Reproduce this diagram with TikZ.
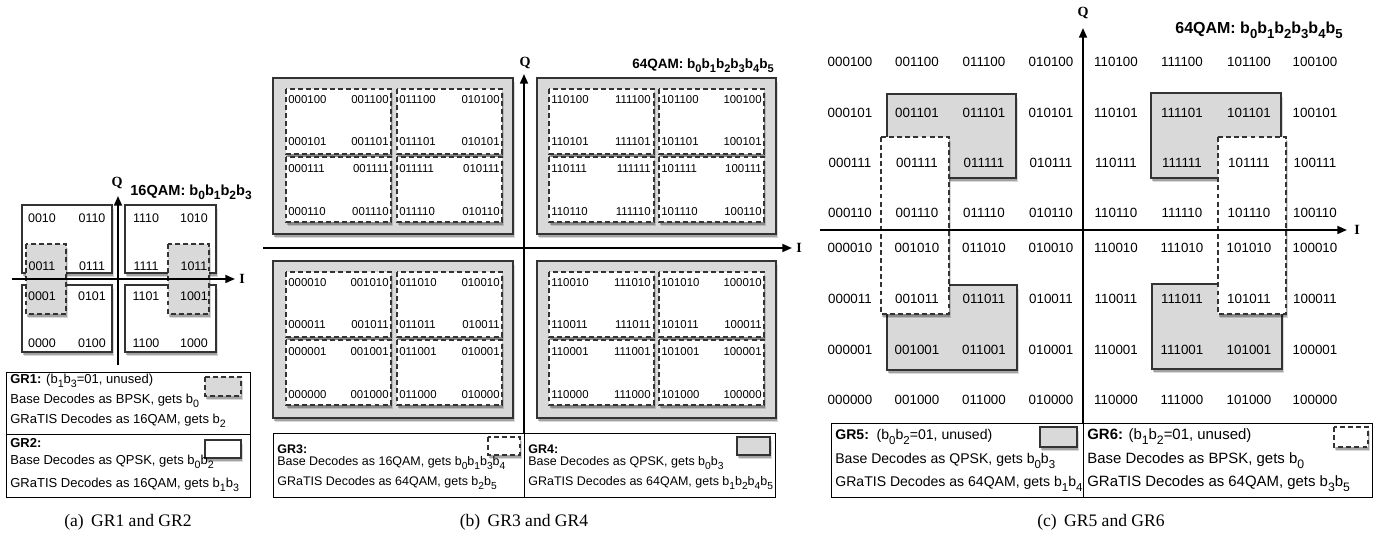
\documentclass[tikz,border=0pt]{standalone}
\usepackage{fontspec}
\setmainfont{Liberation Serif}
\setsansfont{Liberation Sans}
\usetikzlibrary{shadows,arrows.meta}

\definecolor{regiongray}{RGB}{217,217,217}
\newcommand{\bbit}[1]{b\raisebox{-0.55ex}{\scalebox{0.82}{#1}}}

\tikzset{
  softshadow/.style={drop shadow={shadow xshift=0.9pt,shadow yshift=-2.4pt,opacity=0.15,fill=black},
                     drop shadow={shadow xshift=0.5pt,shadow yshift=-1.5pt,opacity=0.25,fill=black}},
  cellbox/.style={draw=black!80,line width=0.6pt,fill=white,softshadow},
  graybox/.style={draw=black!80,line width=0.6pt,fill=regiongray,softshadow},
  dashwhite/.style={cellbox,dash pattern=on 2.8pt off 1.8pt},
  dashgray/.style={graybox,dash pattern=on 2.8pt off 1.8pt},
  legframe/.style={draw=black,line width=0.5pt},
  axisline/.style={line width=1.1pt,-{Triangle[length=5.5pt,width=4.5pt]}},
  axlabel/.style={inner sep=0pt,font=\rmfamily\bfseries\fontsize{8}{9}\selectfont},
  bita/.style={inner sep=0pt,font=\sffamily\fontsize{7.1}{8}\selectfont},
  bitb/.style={inner sep=0pt,font=\sffamily\fontsize{6.5}{7.5}\selectfont},
  bitc/.style={inner sep=0pt,font=\sffamily\fontsize{7.6}{9}\selectfont},
  qamtitle/.style={inner sep=0pt,font=\sffamily\bfseries\fontsize{#1}{10}\selectfont},
  legtxt/.style={anchor=base west,inner sep=0pt,font=\sffamily\fontsize{#1}{9}\selectfont},
  capt/.style={anchor=base,inner sep=0pt,font=\rmfamily\fontsize{10}{12}\selectfont}
}

\begin{document}
\begin{tikzpicture}[x=0.02cm,y=-0.02cm]
\useasboundingbox (0,0) rectangle (1374,540);

% ---------- (a) 16QAM ----------
\draw[cellbox] (22,205) rectangle (112,273);
\draw[cellbox] (125,205) rectangle (216,273);
\draw[cellbox] (22,285) rectangle (112,352);
\draw[cellbox] (125,285) rectangle (216,352);
\draw[dashgray] (26,244) rectangle (66,314);
\draw[dashgray] (168,244) rectangle (209,314);
\foreach \x/\cp in {42/00,92/01,146/11,194/10}
  \foreach \y/\rs in {218/10,266/11,296/01,343/00}
    \node[bita] (a\cp\rs) at (\x,\y) {\cp\rs};
\coordinate (aW) at (12,279);
\coordinate (aE) at (235,279);
\coordinate (aS) at (118,365);
\coordinate (aN) at (118,196);
\draw[axisline] (aW) -- (aE);
\draw[axisline] (aS) -- (aN);
\node[axlabel] (aQ) at (117,183) {Q};
\node[axlabel] (aI) at (242,279) {I};
\node[qamtitle=8.3] (atitle) at (191,192) {16QAM: \bbit{0}\bbit{1}\bbit{2}\bbit{3}};

% legend (a)
\draw[legframe] (6,372) rectangle (250,434);
\draw[legframe] (6,434) rectangle (250,497);
\draw[dashgray] (205,377) rectangle (241,396);
\draw[cellbox] (205,440) rectangle (241,458);
\node[legtxt=7.4] (gr1head) at (10,384) {\textbf{GR1:} (\bbit{1}\bbit{3}=01, unused)};
\node[legtxt=7.4] (gr1base) at (10,404) {Base Decodes as BPSK, gets \bbit{0}};
\node[legtxt=7.4] (gr1gratis) at (10,424) {GRaTIS Decodes as 16QAM, gets \bbit{2}};
\node[legtxt=7.4] (gr2head) at (10,448) {\textbf{GR2:}};
\node[legtxt=7.4] (gr2base) at (10,465) {Base Decodes as QPSK, gets \bbit{0}\bbit{2}};
\node[legtxt=7.4] (gr2gratis) at (10,488) {GRaTIS Decodes as 16QAM, gets \bbit{1}\bbit{3}};
\node[capt] (capa) at (128,527) {(a)\, GR1 and GR2};

% ---------- (b) 64QAM, GR3/GR4 ----------
\draw[graybox] (273,78) rectangle (513,234);
\draw[graybox] (537,78) rectangle (776,234);
\draw[graybox] (273,261) rectangle (513,418);
\draw[graybox] (537,261) rectangle (776,418);
\foreach \x in {286,397,549,659}
  \foreach \y in {89,157,272,340}
    \draw[dashwhite] (\x,\y) rectangle ++(105,65);
\foreach \x/\a/\cp in {288/west/000,389/east/001,399/west/011,500/east/010,551/west/110,651/east/111,661/west/101,762/east/100}
  \foreach \y/\rs in {100/100,142/101,169/111,212/110,283/010,325/011,352/001,395/000}
    \node[bitb,anchor=\a] (b\cp\rs) at (\x,\y) {\cp\rs};
\coordinate (bW) at (263,248);
\coordinate (bE) at (792,248);
\coordinate (bS) at (524,433);
\coordinate (bN) at (524,74);
\draw[axisline] (bW) -- (bE);
\draw[axisline] (bS) -- (bN);
\node[axlabel] (bQ) at (525,63) {Q};
\node[axlabel] (bI) at (799,248) {I};
\node[qamtitle=7.7] (btitle) at (703,66) {64QAM: \bbit{0}\bbit{1}\bbit{2}\bbit{3}\bbit{4}\bbit{5}};

% legend (b)
\draw[legframe] (273,433) rectangle (524,497);
\draw[legframe] (524,433) rectangle (775,497);
\draw[dashwhite] (488,437) rectangle (520,455);
\draw[graybox] (737,437) rectangle (770,455);
\node[legtxt=7.1] (gr3head) at (277,454) {\textbf{GR3:}};
\node[legtxt=7.1] (gr3base) at (277,466) {Base Decodes as 16QAM, gets \bbit{0}\bbit{1}\bbit{3}\bbit{4}};
\node[legtxt=7.1] (gr3gratis) at (277,486) {GRaTIS Decodes as 64QAM, gets \bbit{2}\bbit{5}};
\node[legtxt=7.1] (gr4head) at (528,454) {\textbf{GR4:}};
\node[legtxt=7.1] (gr4base) at (528,466) {Base Decodes as QPSK, gets \bbit{0}\bbit{3}};
\node[legtxt=7.1] (gr4gratis) at (528,486) {GRaTIS Decodes as 64QAM, gets \bbit{1}\bbit{2}\bbit{4}\bbit{5}};
\node[capt] (capb) at (524,527) {(b)\, GR3 and GR4};

% ---------- (c) 64QAM, GR5/GR6 ----------
\draw[graybox] (887,94) rectangle (1016,178);
\draw[graybox] (887,285) rectangle (1017,370);
\draw[graybox] (1151,93) rectangle (1281,178);
\draw[graybox] (1152,284) rectangle (1282,369);
\draw[dashwhite] (881,137) rectangle (949,314);
\draw[dashwhite] (1218,137) rectangle (1286,314);
\foreach \x/\cp in {850/000,917/001,984/011,1051/010,1116/110,1182/111,1249/101,1315/100}
  \foreach \y/\rs in {62/100,113/101,163/111,213/110,248/010,299/011,350/001,400/000}
    \node[bitc] (c\cp\rs) at (\x,\y) {\cp\rs};
\coordinate (cW) at (820,230);
\coordinate (cE) at (1347,230);
\coordinate (cS) at (1083,423);
\coordinate (cN) at (1083,28);
\draw[axisline] (cW) -- (cE);
\draw[axisline] (cS) -- (cN);
\node[axlabel] (cQ) at (1083,13) {Q};
\node[axlabel] (cI) at (1357,230) {I};
\node[qamtitle=9.1] (ctitle) at (1259,30) {64QAM: \bbit{0}\bbit{1}\bbit{2}\bbit{3}\bbit{4}\bbit{5}};

% legend (c)
\draw[legframe] (831,423) rectangle (1083,497);
\draw[legframe] (1083,423) rectangle (1372,497);
\draw[graybox] (1040,427) rectangle (1077,447);
\draw[dashwhite] (1334,427) rectangle (1368,447);
\node[legtxt=8] (gr5head) at (835,440) {\textbf{GR5:}\ \ (\bbit{0}\bbit{2}=01, unused)};
\node[legtxt=8] (gr5base) at (835,464) {Base Decodes as QPSK, gets \bbit{0}\bbit{3}};
\node[legtxt=8] (gr5gratis) at (835,487) {GRaTIS Decodes as 64QAM, gets \bbit{1}\bbit{4}};
\node[legtxt=8.5] (gr6head) at (1087,440) {\textbf{GR6:} (\bbit{1}\bbit{2}=01, unused)};
\node[legtxt=8.5] (gr6base) at (1087,464) {Base Decodes as BPSK, gets \bbit{0}};
\node[legtxt=8.5] (gr6gratis) at (1087,487) {GRaTIS Decodes as 64QAM, gets \bbit{3}\bbit{5}};
\node[capt] (capc) at (1101,527) {(c)\, GR5 and GR6};
\end{tikzpicture}
\end{document}
